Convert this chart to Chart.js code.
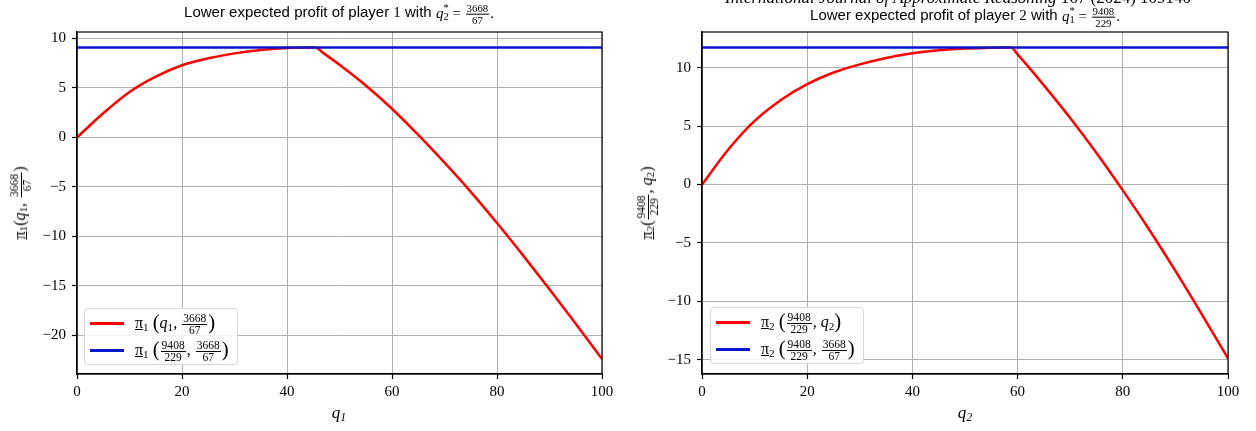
<!DOCTYPE html>
<html>
<head>
<meta charset="utf-8">
<title>Lower expected profit</title>
<script src="https://cdn.jsdelivr.net/npm/chart.js"></script>
<style>
    body { margin: 0; padding: 0; background: #fff; overflow: hidden; }
    #page { position: relative; width: 1256px; height: 431px; }
    .panel { position: absolute; top: 0; width: 628px; height: 431px; }
    .txt { position: absolute; white-space: nowrap; color: #000; }
    .title { font: 15px 'Liberation Sans', sans-serif; transform: translate(-50%, -50%); }
    .math { font-family: 'Liberation Serif', serif; }
    .math i { font-style: italic; }
    .frac { display: inline-block; vertical-align: middle; text-align: center; font-size: 0.72em; line-height: 1; margin: 0 1px; }
    .frac span { display: block; padding: 0 1px; }
    .frac .num { border-bottom: 1px solid #000; }
    .ss { display: inline-block; vertical-align: -0.25em; line-height: 0.9; font-size: 0.7em; text-align: left; }
    .ss span { display: block; }
    .ylab { font: 16px 'Liberation Serif', serif; transform: translate(-50%, -50%) rotate(-90deg); }
    .xlab { font: italic 17px 'Liberation Serif', serif; transform: translate(-50%, -50%); }
    .pi { text-decoration: underline; }
    sub { font-size: 0.7em; vertical-align: -0.25em; }
    .legend {
        position: absolute; border: 1px solid #d6d6d6; border-radius: 4px;
        background: rgba(255,255,255,0.85); padding: 1px 8px 0 5px;
        font: 16px 'Liberation Serif', serif;
    }
    .row { display: flex; align-items: center; height: 27px; white-space: nowrap; }
    .swatch { display: inline-block; width: 34px; height: 2.5px; margin-right: 11px; }
    .big { font-size: 1.3em; vertical-align: -0.05em; }
    .header { font: italic 17px 'Liberation Serif', serif; }
</style>
</head>
<body>
<div id="page">
    <div class="panel" style="left:0"><canvas id="chartLeft"></canvas></div>
    <div class="panel" style="left:628px"><canvas id="chartRight"></canvas></div>

    <div class="txt header" style="left:725px; top:-12px">International Journal of Approximate Reasoning <span style="font-style:normal">167 (2024) 109140</span></div>

    <div class="txt title" style="left:339px; top:14px">Lower expected profit of player <span class="math">1</span> with <span class="math"><i>q</i><span class="ss"><span>*</span><span>2</span></span> = <span class="frac"><span class="num">3668</span><span>67</span></span>.</span></div>
    <div class="txt title" style="left:965px; top:17px">Lower expected profit of player <span class="math">2</span> with <span class="math"><i>q</i><span class="ss"><span>*</span><span>1</span></span> = <span class="frac"><span class="num">9408</span><span>229</span></span>.</span></div>

    <div class="txt ylab" style="left:21px; top:203px"><span class="pi">π</span><sub>1</sub>(<i>q</i><sub>1</sub>, <span class="frac"><span class="num">3668</span><span>67</span></span>)</div>
    <div class="txt ylab" style="left:648px; top:203px"><span class="pi">π</span><sub>2</sub>(<span class="frac"><span class="num">9408</span><span>229</span></span>, <i>q</i><sub>2</sub>)</div>

    <div class="txt xlab" style="left:339px; top:414px">q<sub>1</sub></div>
    <div class="txt xlab" style="left:965px; top:414px">q<sub>2</sub></div>

    <div class="legend" style="left:84px; top:308px">
        <div class="row"><span class="swatch" style="background:#ff0000"></span><span><span class="pi">π</span><sub>1</sub> <span class="big">(</span><i>q</i><sub>1</sub>, <span class="frac"><span class="num">3668</span><span>67</span></span><span class="big">)</span></span></div>
        <div class="row"><span class="swatch" style="background:#0b16cf"></span><span><span class="pi">π</span><sub>1</sub> <span class="big">(</span><span class="frac"><span class="num">9408</span><span>229</span></span>, <span class="frac"><span class="num">3668</span><span>67</span></span><span class="big">)</span></span></div>
    </div>
    <div class="legend" style="left:710px; top:307px">
        <div class="row"><span class="swatch" style="background:#ff0000"></span><span><span class="pi">π</span><sub>2</sub> <span class="big">(</span><span class="frac"><span class="num">9408</span><span>229</span></span>, <i>q</i><sub>2</sub><span class="big">)</span></span></div>
        <div class="row"><span class="swatch" style="background:#0b16cf"></span><span><span class="pi">π</span><sub>2</sub> <span class="big">(</span><span class="frac"><span class="num">9408</span><span>229</span></span>, <span class="frac"><span class="num">3668</span><span>67</span></span><span class="big">)</span></span></div>
    </div>
</div>

<script>
    // player 1: lower expected profit against q2* = 3668/67
    const q1Values = [0, 5, 10, 15, 20, 25, 30, 35, 40, 45.4, 47, 50, 55, 60, 65, 70, 75, 80, 85, 90, 95, 100];
    const pi1Lower = [0, 2.45, 4.6, 6.15, 7.3, 8.0, 8.5, 8.85, 9.05, 9.09, 8.5, 7.35, 5.25, 2.9, 0.25, -2.55, -5.5, -8.65, -11.95, -15.35, -18.85, -22.4];
    const pi1AtEquilibrium = 9.09;

    // player 2: lower expected profit against q1* = 9408/229
    const q2Values = [0, 5, 10, 15, 20, 25, 30, 35, 40, 45, 50, 55, 58.8, 60, 65, 70, 75, 80, 85, 90, 95, 100];
    const pi2Lower = [0, 3.0, 5.45, 7.25, 8.6, 9.6, 10.3, 10.85, 11.25, 11.5, 11.65, 11.72, 11.74, 11.15, 8.5, 5.7, 2.7, -0.5, -3.85, -7.4, -11.1, -14.9];
    const pi2AtEquilibrium = 11.74;

    const xTicks = [0, 20, 40, 60, 80, 100];

    const frame = {
        id: 'frame',
        afterDatasetsDraw(chart) {
            const { ctx, chartArea: a } = chart;
            ctx.save();
            ctx.strokeStyle = '#000';
            ctx.lineWidth = 1.2;
            ctx.strokeRect(a.left, a.top, a.right - a.left, a.bottom - a.top);
            ctx.restore();
        }
    };

    const tickFont = { family: "'Liberation Serif', serif", size: 15 };
    const fmt = v => v < 0 ? '\u2212' + Math.abs(v) : String(v);

    function makeChart(id, xs, ys, flat, yMin, yMax, yWidth, padRight) {
        return new Chart(document.getElementById(id), {
            type: 'line',
            data: {
                datasets: [
                    {
                        data: xs.map((x, i) => ({ x: x, y: ys[i] })),
                        borderColor: '#ff0000',
                        borderWidth: 2.5,
                        pointRadius: 0,
                        cubicInterpolationMode: 'monotone',
                        order: 2
                    },
                    {
                        data: [{ x: 0, y: flat }, { x: 100, y: flat }],
                        borderColor: '#0b16cf',
                        borderWidth: 2.5,
                        pointRadius: 0,
                        order: 1
                    }
                ]
            },
            options: {
                responsive: true,
                maintainAspectRatio: false,
                animation: false,
                layout: { padding: { top: 32, right: padRight, left: 0, bottom: 0 } },
                plugins: { legend: { display: false }, tooltip: { enabled: false } },
                scales: {
                    x: {
                        type: 'linear',
                        min: 0,
                        max: 100,
                        afterBuildTicks: s => { s.ticks = xTicks.map(v => ({ value: v })); },
                        afterFit: s => { s.height = 57; },
                        grid: { color: '#b0b0b0', lineWidth: 1, tickColor: '#000', tickLength: 5, tickWidth: 1.2 },
                        border: { color: '#000', width: 1.2 },
                        ticks: { color: '#000', font: tickFont, padding: 4, maxRotation: 0 }
                    },
                    y: {
                        min: yMin,
                        max: yMax,
                        afterFit: s => { s.width = yWidth; },
                        grid: { color: '#b0b0b0', lineWidth: 1, tickColor: '#000', tickLength: 5, tickWidth: 1.2 },
                        border: { color: '#000', width: 1.2 },
                        ticks: { color: '#000', font: tickFont, padding: 6, stepSize: 5, includeBounds: false, callback: fmt }
                    }
                }
            },
            plugins: [frame]
        });
    }

    makeChart('chartLeft', q1Values, pi1Lower, pi1AtEquilibrium, -23.92, 10.66, 77, 26);
    makeChart('chartRight', q2Values, pi2Lower, pi2AtEquilibrium, -16.23, 13.07, 74, 28);
</script>
</body>
</html>
